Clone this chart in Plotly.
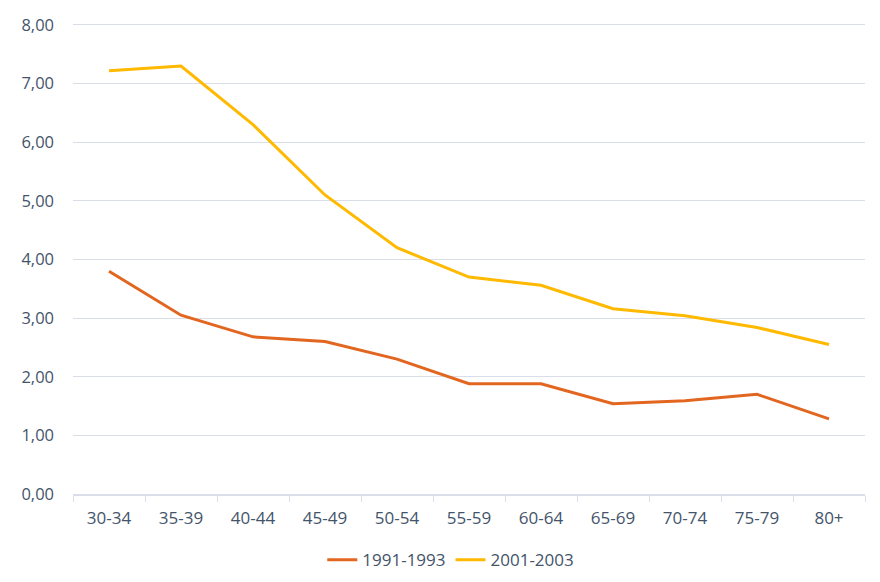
import plotly.graph_objects as go

# age groups
categories = ["30-34", "35-39", "40-44", "45-49", "50-54", "55-59",
              "60-64", "65-69", "70-74", "75-79", "80+"]
# values per series
values_1991 = [3.80, 3.05, 2.68, 2.60, 2.30, 1.88, 1.88, 1.54, 1.59, 1.70, 1.28]
values_2001 = [7.22, 7.30, 6.30, 5.10, 4.20, 3.70, 3.56, 3.16, 3.04, 2.84, 2.55]
y_ticks = [0, 1, 2, 3, 4, 5, 6, 7, 8]

font_color = "#44546A"
grid_color = "#D9DEE8"

fig = go.Figure()
fig.add_trace(go.Scatter(
    x=categories, y=values_1991, name="1991-1993", mode="lines",
    line=dict(color="#E2661F", width=3),
))
fig.add_trace(go.Scatter(
    x=categories, y=values_2001, name="2001-2003", mode="lines",
    line=dict(color="#FFB900", width=3),
))

fig.update_layout(
    width=880, height=582,
    paper_bgcolor="white", plot_bgcolor="white",
    margin=dict(l=65, r=23, t=14, b=96, autoexpand=False),
    separators=",.",
    font=dict(family="Open Sans", size=16.5, color=font_color),
    showlegend=True,
    legend=dict(orientation="h", x=0.477, xanchor="center", y=-0.102, yanchor="top",
                font=dict(size=17, color=font_color)),
    xaxis=dict(
        type="category", range=[-0.5, 10.5], tickson="boundaries",
        ticks="outside", ticklen=6, tickcolor=grid_color,
        showline=True, linecolor=grid_color, linewidth=1.5,
        showgrid=False, ticklabelstandoff=8, automargin=False,
        tickfont=dict(size=17, color=font_color),
    ),
    yaxis=dict(
        range=[0, 8.05], tickvals=y_ticks, tickformat=".2f",
        showgrid=True, gridcolor=grid_color, gridwidth=1,
        zeroline=False, showline=False, ticks="", ticklabelstandoff=18,
        automargin=False, tickfont=dict(size=16.5, color=font_color),
    ),
)

fig.write_html("out.html")
